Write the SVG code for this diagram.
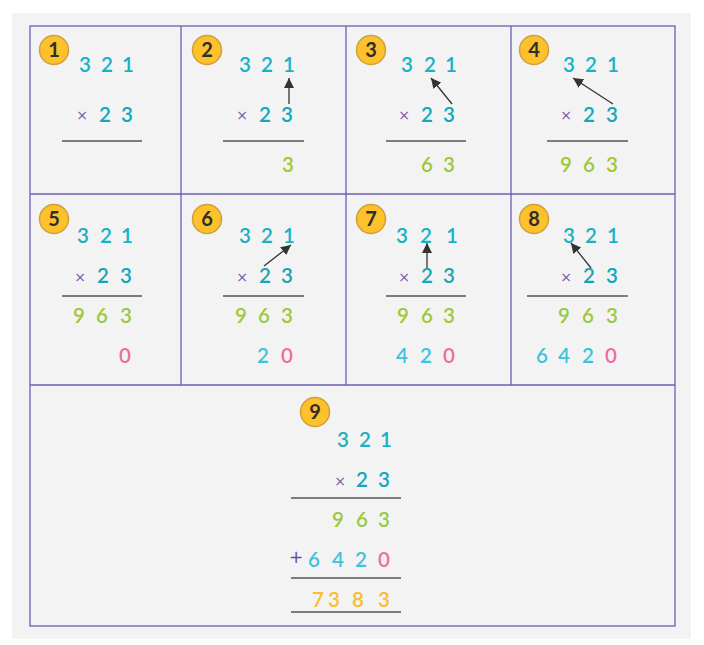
<svg xmlns="http://www.w3.org/2000/svg" width="704" height="645" viewBox="0 0 704 645">
<defs>
<style>
.d{font-family:Lato,"Open Sans","Noto Sans",sans-serif;font-size:20.5px;text-anchor:middle;font-weight:600}
.t{fill:#19b1c5}
.m{fill:#14a7b8}
.g{fill:#9bc93b}
.b{fill:#3ec3dc}
.p{fill:#ef6c9c}
.y{fill:#fbbd2a}
.x{font-family:"DejaVu Sans",sans-serif;font-size:14px;fill:#6a5bb4;text-anchor:middle}
.pl{font-family:"DejaVu Sans",sans-serif;font-size:17px;fill:#5c4ea6;text-anchor:middle}
.rule{stroke:#555;stroke-width:1.3}
.grid{stroke:#6c5eb4;stroke-width:1.3;fill:none}
.badge circle{fill:#fdc12c;stroke:#d0a03a;stroke-width:1.5}
.badge text{font-family:Lato,"Open Sans",sans-serif;font-size:20px;font-weight:700;fill:#2e2e2e;text-anchor:middle}
.arr{stroke:#333;stroke-width:1.3;fill:none;marker-end:url(#ah)}
</style>
<marker id="ah" viewBox="0 0 10 10" refX="10" refY="5" markerWidth="10" markerHeight="10" markerUnits="userSpaceOnUse" orient="auto">
<path d="M0,0 L10,5 L0,10 z" fill="#333"/>
</marker>
</defs>
<rect width="704" height="645" fill="#fff"/>
<rect x="12" y="13" width="679" height="626" fill="#f3f3f3"/>
<g id="grid" class="grid">
<rect x="30" y="26" width="645" height="600"/>
<line x1="181" y1="26" x2="181" y2="385"/>
<line x1="346" y1="26" x2="346" y2="385"/>
<line x1="511" y1="26" x2="511" y2="385"/>
<line x1="30" y1="194" x2="675" y2="194"/>
<line x1="30" y1="385" x2="675" y2="385"/>
</g>

<g id="step1">
<g class="badge"><circle cx="54" cy="50" r="14.5"/><text x="54" y="57">1</text></g>
<text class="d t" x="85 107 128" y="72">321</text>
<text class="x" x="82" y="120">×</text>
<text class="d m" x="105 127" y="122">23</text>
<line class="rule" x1="62" y1="141" x2="142" y2="141"/>
</g>

<g id="step2">
<g class="badge"><circle cx="207" cy="50" r="14.5"/><text x="207" y="57">2</text></g>
<text class="d t" x="245 267 289" y="72">321</text>
<text class="x" x="242" y="120">×</text>
<text class="d m" x="265 287" y="122">23</text>
<line class="rule" x1="223" y1="141" x2="304" y2="141"/>
<text class="d g" x="288" y="172">3</text>
</g>

<g id="step3">
<g class="badge"><circle cx="371" cy="50" r="14.5"/><text x="371" y="57">3</text></g>
<text class="d t" x="407 430 451" y="72">321</text>
<text class="x" x="404" y="120">×</text>
<text class="d m" x="427 449" y="122">23</text>
<line class="rule" x1="386" y1="141" x2="466" y2="141"/>
<text class="d g" x="427 449" y="172">63</text>
</g>

<g id="step4">
<g class="badge"><circle cx="534" cy="50" r="14.5"/><text x="534" y="57">4</text></g>
<text class="d t" x="569 591 613" y="72">321</text>
<text class="x" x="566" y="120">×</text>
<text class="d m" x="589 612" y="122">23</text>
<line class="rule" x1="547" y1="141" x2="628" y2="141"/>
<text class="d g" x="566 589 612" y="172">963</text>
</g>

<g id="step5">
<g class="badge"><circle cx="54" cy="219" r="14.5"/><text x="54" y="226">5</text></g>
<text class="d t" x="83 106 127" y="243">321</text>
<text class="x" x="80" y="282">×</text>
<text class="d m" x="103 126" y="283">23</text>
<line class="rule" x1="62" y1="296" x2="142" y2="296"/>
<text class="d g" x="79 102 126" y="323">963</text>
<text class="d p" x="125" y="363">0</text>
</g>

<g id="step6">
<g class="badge"><circle cx="207" cy="219" r="14.5"/><text x="207" y="226">6</text></g>
<text class="d t" x="245 267 289" y="243">321</text>
<text class="x" x="242" y="282">×</text>
<text class="d m" x="265 287" y="283">23</text>
<line class="rule" x1="223" y1="296" x2="304" y2="296"/>
<text class="d g" x="241 264 287" y="323">963</text>
<text class="d b" x="263" y="363">2</text>
<text class="d p" x="287" y="363">0</text>
</g>

<g id="step7">
<g class="badge"><circle cx="371" cy="219" r="14.5"/><text x="371" y="226">7</text></g>
<text class="d t" x="402 426 452" y="243">321</text>
<text class="x" x="404" y="282">×</text>
<text class="d m" x="427 449" y="283">23</text>
<line class="rule" x1="386" y1="296" x2="466" y2="296"/>
<text class="d g" x="403 427 449" y="323">963</text>
<text class="d b" x="402 426" y="363">42</text>
<text class="d p" x="449" y="363">0</text>
</g>

<g id="step8">
<g class="badge"><circle cx="534" cy="219" r="14.5"/><text x="534" y="226">8</text></g>
<text class="d t" x="569 591 613" y="243">321</text>
<text class="x" x="566" y="282">×</text>
<text class="d m" x="589 612" y="283">23</text>
<line class="rule" x1="527" y1="296" x2="628" y2="296"/>
<text class="d g" x="564 588 612" y="323">963</text>
<text class="d b" x="542 564 588" y="363">642</text>
<text class="d p" x="611" y="363">0</text>
</g>

<g id="step9">
<g class="badge"><circle cx="315" cy="412" r="14.5"/><text x="315" y="419">9</text></g>
<text class="d t" x="343 365 386" y="447">321</text>
<text class="x" x="340" y="486">×</text>
<text class="d m" x="362 384" y="487">23</text>
<line class="rule" x1="291" y1="498" x2="401" y2="498"/>
<text class="d g" x="338 362 384" y="527">963</text>
<text class="pl" x="296" y="563">+</text>
<text class="d b" x="314 338 361" y="567">642</text>
<text class="d p" x="384" y="567">0</text>
<line class="rule" x1="291" y1="578" x2="401" y2="578"/>
<text class="d y" x="318 334 358 384" y="607">7383</text>
<line class="rule" x1="291" y1="612" x2="401" y2="612"/>
</g>

<g id="connectors">
<line class="arr" x1="289" y1="104" x2="289" y2="78"/>
<line class="arr" x1="452" y1="104" x2="431" y2="78"/>
<line class="arr" x1="613" y1="104" x2="573" y2="78"/>
<line class="arr" x1="264" y1="266" x2="291" y2="245"/>
<line class="arr" x1="427" y1="268" x2="427" y2="243"/>
<line class="arr" x1="591" y1="268" x2="571" y2="243"/>
</g>
</svg>
